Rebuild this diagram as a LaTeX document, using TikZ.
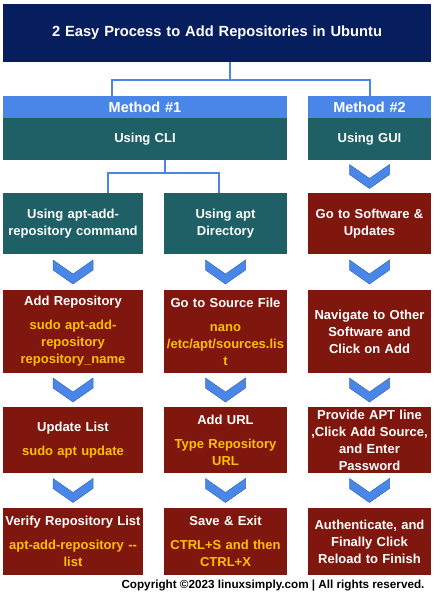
\documentclass[tikz,border=0pt]{standalone}
\usepackage{fontspec}
\setmainfont{Liberation Sans}
\usetikzlibrary{calc}

\definecolor{navy}{HTML}{061E5D}
\definecolor{skyblue}{HTML}{4A86E8}
\definecolor{tealbox}{HTML}{1F6066}
\definecolor{berry}{HTML}{7F170E}
\definecolor{amber}{HTML}{FFBF00}

% heading line, then the command in amber
\newcommand{\twopart}[2]{#1\\[7pt]{\color{amber}#2}}
% blue chevron half way between two stacked boxes
\newcommand{\chevdown}[2]{\fill[chev] ($(#1.south)!0.5!(#2.north)$) ++(-20,-12) -- ++(0,10) -- ++(20,14) -- ++(20,-14) -- ++(0,-10) -- ++(-20,14) -- cycle;}

\begin{document}
\begin{tikzpicture}[x=1pt,y=-1pt,
  box/.style={rectangle,text=white,align=center,inner sep=0pt,font=\bfseries\fontsize{13}{17}\selectfont},
  titlebox/.style={box,fill=navy,text width=428pt,minimum height=58pt,font=\bfseries\fontsize{14.7}{18}\selectfont},
  headbox/.style={box,fill=skyblue,minimum height=22pt,font=\bfseries\fontsize{14.5}{18}\selectfont},
  waybox/.style={box,fill=tealbox},
  stepbox/.style={box,fill=berry},
  colA/.style={text width=140pt},
  colB/.style={text width=123pt},
  link/.style={skyblue,line width=2pt},
  chev/.style={fill=skyblue,draw=skyblue!80!black,line width=0.5pt}]
\useasboundingbox (0,0) rectangle (434,595);

\node[titlebox] (title) at (217,33) {2 Easy Process to Add Repositories in Ubuntu};

\node[headbox,text width=284pt] (m1head) at (145,107) {Method \#1};
\node[waybox,text width=284pt,minimum height=42pt] (m1body) at (145,139) {Using CLI};
\node[headbox,colB] (m2head) at (369.5,107) {Method \#2};
\node[waybox,colB,minimum height=42pt] (m2body) at (369.5,139) {Using GUI};

% row 2
\node[waybox,colA,minimum height=61pt] (cliA) at (73,223.5) {Using apt-add-\\repository command};
\node[waybox,colB,minimum height=61pt] (cliB) at (225.5,223.5) {Using apt\\Directory};
\node[stepbox,colB,minimum height=61pt] (gui1) at (369.5,223.5) {Go to Software \&\\Updates};

% row 3
\node[stepbox,colA,minimum height=83pt] (a1) at (73,331.5) {\twopart{Add Repository}{sudo apt-add-\\repository\\repository\_name}};
\node[stepbox,colB,minimum height=83pt] (b1) at (225.5,331.5) {\twopart{Go to Source File}{nano\\/etc/apt/sources.lis\\t}};
\node[stepbox,colB,minimum height=83pt] (gui2) at (369.5,331.5) {Navigate to Other\\Software and\\Click on Add};

% row 4
\node[stepbox,colA,minimum height=66pt] (a2) at (73,440) {\twopart{Update List}{sudo apt update}};
\node[stepbox,colB,minimum height=66pt] (b2) at (225.5,440) {\twopart{Add URL}{Type Repository\\URL}};
\node[stepbox,colB,minimum height=66pt] (gui3) at (369.5,440) {Provide APT line\\,Click Add Source,\\and Enter\\Password};

% row 5
\node[stepbox,colA,minimum height=67pt] (a3) at (73,541.5) {\twopart{Verify Repository List}{apt-add-repository -{}-\\list}};
\node[stepbox,colB,minimum height=67pt] (b3) at (225.5,541.5) {\twopart{Save \& Exit}{CTRL+S and then\\CTRL+X}};
\node[stepbox,colB,minimum height=67pt] (gui4) at (369.5,541.5) {Authenticate, and\\Finally Click\\Reload to Finish};

\node[anchor=east,font=\bfseries\fontsize{11.7}{14}\selectfont] (copy) at (428,586) {Copyright ©2023 linuxsimply.com | All rights reserved.};

\draw[link] ([xshift=13pt]title.south) -- ++(0,18) coordinate (split1);
\draw[link] ([xshift=-33pt]m1head.north) |- (split1) -| (m2head.north);
\draw[link] ([xshift=20pt]m1body.south) -- ++(0,13) coordinate (split2);
\draw[link] ([xshift=35pt]cliA.north) |- (split2) -| ([xshift=-6.5pt]cliB.north);

\chevdown{m2body}{gui1}
\chevdown{cliA}{a1}
\chevdown{cliB}{b1}
\chevdown{gui1}{gui2}
\chevdown{a1}{a2}
\chevdown{b1}{b2}
\chevdown{gui2}{gui3}
\chevdown{a2}{a3}
\chevdown{b2}{b3}
\chevdown{gui3}{gui4}
\end{tikzpicture}
\end{document}
